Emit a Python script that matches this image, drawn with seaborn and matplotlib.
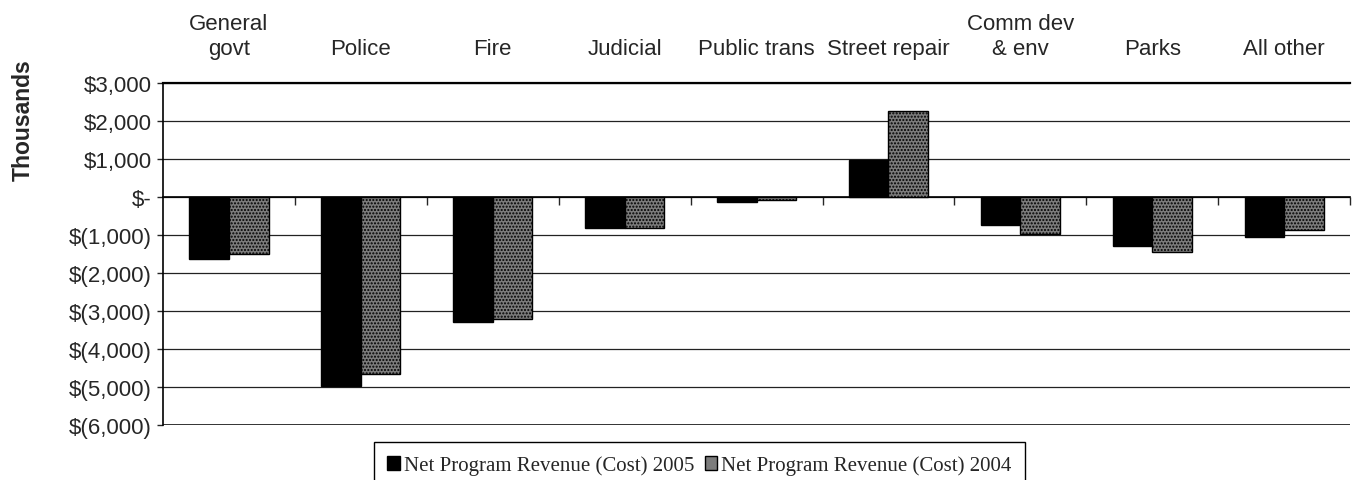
import matplotlib
matplotlib.use('Agg')
import matplotlib.pyplot as plt
import matplotlib.ticker as mticker
import seaborn as sns
import pandas as pd
import numpy as np

# Categories (shown along the top of the chart)
programs = ['General\ngovt', 'Police', 'Fire', 'Judicial', 'Public trans',
            'Street repair', 'Comm dev\n& env', 'Parks', 'All other']

# Net program revenue (cost), in thousands of dollars
net_2005 = [-1620, -4980, -3280, -820, -140, 980, -740, -1280, -1050]
net_2004 = [-1500, -4660, -3210, -820, -70, 2270, -970, -1440, -860]

label_2005 = 'Net Program Revenue (Cost) 2005'
label_2004 = 'Net Program Revenue (Cost) 2004'

yticks = [3000, 2000, 1000, 0, -1000, -2000, -3000, -4000, -5000, -6000]

df = pd.DataFrame({'Program': programs * 2,
                   'Net': net_2005 + net_2004,
                   'Year': [label_2005] * len(programs) + [label_2004] * len(programs)})

sns.set_style('white')
plt.rcParams['font.family'] = ['Liberation Sans', 'DejaVu Sans']

fig = plt.figure(figsize=(13.52, 4.81), dpi=100)
ax = fig.add_axes([0.1206, 0.1143, 0.878, 0.7111])

colors = {label_2005: 'black', label_2004: '#7c7c7c'}
sns.barplot(data=df, x='Program', y='Net', hue='Year', order=programs,
            hue_order=[label_2005, label_2004], palette=colors, width=0.6, gap=0,
            edgecolor='black', linewidth=1, saturation=1, ax=ax, zorder=3)

# stippled look for the 2004 bars
for bar in ax.containers[1]:
    bar.set_hatch('.....')

ax.set_xlim(-0.5, len(programs) - 0.5)
ax.set_ylim(-6000, 3000)
ax.set_yticks(yticks)


def money(v, pos):
    if v == 0:
        return '$-'
    if v < 0:
        return '$({:,.0f})'.format(-v)
    return '${:,.0f}'.format(v)


ax.yaxis.set_major_formatter(mticker.FuncFormatter(money))
ax.tick_params(axis='y', labelsize=16, length=4, width=1, direction='out', left=True, pad=4)
ax.grid(axis='y', color='#222222', linewidth=0.9, zorder=0)
ax.set_axisbelow(True)

# category axis sits on zero, labels go on top
ax.spines['bottom'].set_position(('data', 0))
ax.spines['bottom'].set_linewidth(1.2)
ax.spines['right'].set_visible(False)
ax.spines['top'].set_linewidth(1.6)
ax.spines['left'].set_linewidth(1.2)
for s in ax.spines.values():
    s.set_color('black')
ax.axhline(-6000, color='black', linewidth=1.8, zorder=2)

ax.set_xticks(np.arange(len(programs)))
ax.set_xticks(np.arange(len(programs)) + 0.5, minor=True)
ax.tick_params(axis='x', which='major', bottom=False, top=False,
               labelbottom=False, labeltop=True, labelsize=16, pad=14)
ax.tick_params(axis='x', which='minor', bottom=True, top=False, length=6,
               width=1, direction='out', labelbottom=False)
ax.set_xlabel('')

ax.set_ylabel('Thousands', fontsize=16.5, fontweight='bold')
ax.yaxis.set_label_coords(-0.108, 0.895)

ax.get_legend().remove()
handles, labels = ax.get_legend_handles_labels()
fig.legend(handles, labels, loc='upper center', bbox_to_anchor=(0.5174, 0.079), ncol=2,
           frameon=True, fancybox=False, edgecolor='black', framealpha=1,
           prop={'family': 'Liberation Serif', 'size': 15}, handlelength=0.6,
           handleheight=0.6, handletextpad=0.2, columnspacing=0.5, borderpad=0.65,
           borderaxespad=0)

fig.savefig('out.png', dpi=100)
